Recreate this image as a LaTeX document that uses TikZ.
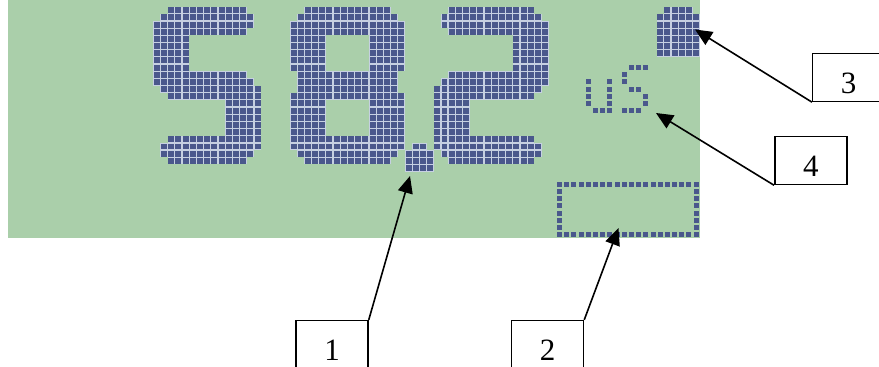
\documentclass[tikz,border=0pt]{standalone}
\usepackage{fontspec}
\setmainfont{Liberation Serif}
\usetikzlibrary{arrows.meta}
\definecolor{lcd}{RGB}{170,207,170}
\definecolor{dotc}{RGB}{74,88,140}
\definecolor{gapc}{RGB}{198,208,226}
% #1 column offset, #2 row offset, #3 list rowA/rowB/colA/colB
\newcommand\bigcells[3]{%
  \foreach \rowa/\rowb/\cola/\colb in {#3}{%
    \foreach \rowi in {\rowa,...,\rowb}{%
      \foreach \coli in {\cola,...,\colb}{%
        \pgfmathsetmacro\xx{153.3+(#1+\coli)*7.19}%
        \pgfmathsetmacro\yy{6.67+(#2+\rowi)*7.17}%
        \fill[gapc] (\xx,\yy) rectangle ++(7.19,7.17);
        \fill[dotc] (\xx+0.6,\yy+0.6) rectangle ++(5.99,5.97);
      }}}}
% #1 column offset, #2 y base, #3 list rowA/rowB/colA/colB
\newcommand\smallcells[3]{%
  \foreach \rowa/\rowb/\cola/\colb in {#3}{%
    \foreach \rowi in {\rowa,...,\rowb}{%
      \foreach \coli in {\cola,...,\colb}{%
        \pgfmathsetmacro\xx{153.3+(#1+\coli)*7.19}%
        \pgfmathsetmacro\yy{#2+\rowi*7.17}%
        \fill[dotc] (\xx+1.1,\yy+1.1) rectangle ++(5.0,5.0);
      }}}}
\begin{document}
\begin{tikzpicture}[x=1pt,y=-1pt,
  box/.style={draw=black,line width=1.5pt,minimum width=72pt,minimum height=48pt,
    inner sep=0pt,text height=32pt,text depth=0pt,font=\fontsize{31}{31}\selectfont},
  callout/.style={line width=1.6pt,-{Triangle[length=17pt,width=15pt]}}]
\useasboundingbox (0,0) rectangle (879,367);
\clip (0,0) rectangle (879,367);
\fill[white] (0,0) rectangle (879,367);
\fill[lcd] (8,0) rectangle (700,238);
% digit 5
\bigcells{0}{0}{0/0/2/12, 1/1/1/13, 2/2/0/13, 3/3/0/12, 4/8/0/4, 9/9/0/12, 10/10/0/13, 11/11/1/14, 12/12/2/14, 13/17/10/14, 18/18/2/14, 19/19/1/14, 20/20/1/13, 21/21/2/12}
% digit 8
\bigcells{19}{0}{0/0/2/13, 1/1/1/14, 2/3/0/15, 4/8/0/4, 4/8/11/15, 9/11/1/14, 12/12/0/15, 13/17/0/4, 13/17/11/15, 18/19/0/15, 20/20/1/14, 21/21/2/13}
% decimal point
\bigcells{35}{0}{19/19/1/2, 20/22/0/3}
% digit 2
\bigcells{39}{0}{0/0/2/13, 1/1/1/14, 2/2/1/15, 3/3/2/15, 4/8/11/15, 9/9/2/15, 10/10/1/15, 11/11/0/14, 12/12/0/13, 13/17/0/4, 18/18/0/13, 19/19/0/14, 20/20/1/14, 21/21/2/13}
% top right block
\bigcells{70}{0}{0/0/1/4, 1/6/0/5}
% uS
\smallcells{60}{6.67}{10/13/0/0, 10/13/3/3, 14/14/1/3, 8/8/6/8, 9/10/5/5, 11/11/6/7, 12/13/8/8, 14/14/5/7}
% bottom rectangle
\smallcells{56}{180.8}{0/0/0/19, 7/7/0/19, 1/6/0/0, 1/6/19/19}
% callout boxes
\node[box] (b1) at (332,344.6) {1};
\node[box] (b2) at (547.5,344.6) {2};
\node[box] (b3) at (848.7,77.4) {3};
\node[box] (b4) at (810.8,160.5) {4};
% targets
\coordinate (t1) at (410,176);
\coordinate (t2) at (618.5,228);
\coordinate (t3) at (695,29.5);
\coordinate (t4) at (656,113);
\draw[callout] (b1.north east) -- (t1);
\draw[callout] (b2.north east) -- (t2);
\draw[callout] (b3.south west) -- (t3);
\draw[callout] (b4.south west) -- (t4);
\end{tikzpicture}
\end{document}
